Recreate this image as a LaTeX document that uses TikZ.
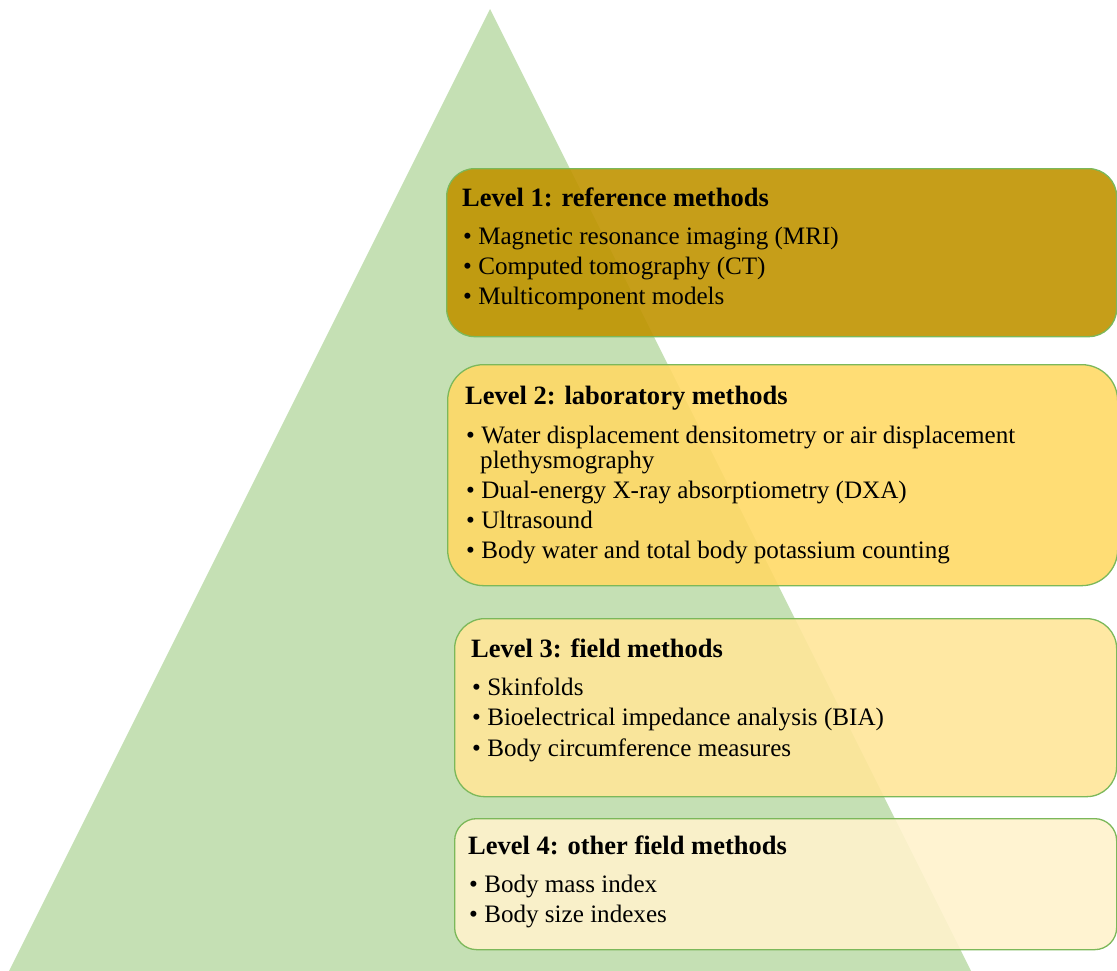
\documentclass[tikz,border=0pt]{standalone}
\usepackage{fontspec}
\setmainfont{Liberation Serif}
\definecolor{trigreen}{HTML}{C5E0B4}
\definecolor{boxline}{HTML}{7CB85A}
\definecolor{lvA}{HTML}{C09400}
\definecolor{lvB}{HTML}{FFD966}
\definecolor{lvC}{HTML}{FFE699}
\definecolor{lvD}{HTML}{FFF2CC}
\begin{document}
\begin{tikzpicture}[x=1bp,y=-1bp,
  lvlbox/.style={draw=boxline, line width=1.3bp, fill opacity=0.9, inner sep=0pt, anchor=north west, minimum width=670bp},
  ttl/.style={anchor=base west, inner sep=0pt, font=\fontsize{26.6}{30}\selectfont\bfseries},
  itm/.style={anchor=base west, inner sep=0pt, font=\fontsize{25.2}{30}\selectfont}]
\useasboundingbox (0,0) rectangle (1117,971);
\fill[trigreen] (490,9) -- (971,971) -- (9,971) -- cycle;
% boxes
\node (b1) [lvlbox, fill=lvA, rounded corners=28bp, minimum height=168bp] at (446,168) {};
\node (b2) [lvlbox, fill=lvB, rounded corners=36bp, minimum height=221bp] at (447,364) {};
\node (b3) [lvlbox, fill=lvC, rounded corners=30bp, minimum height=178bp, minimum width=662bp] at (454,618) {};
\node (b4) [lvlbox, fill=lvD, rounded corners=22bp, minimum height=131bp, minimum width=662bp] at (454,818) {};
% level 1
\node (t1) [ttl] at (462,206) {Level 1: reference methods};
\node (i11) [itm] at (463,244) {• Magnetic resonance imaging (MRI)};
\node (i12) [itm] at (463,274) {• Computed tomography (CT)};
\node (i13) [itm] at (463,304.5) {• Multicomponent models};
% level 2
\node (t2) [ttl] at (465,404) {Level 2: laboratory methods};
\node (i21) [itm] at (466,443) {• Water displacement densitometry or air displacement};
\node (i21b) [itm] at (480,468) {plethysmography};
\node (i22) [itm] at (466,498) {• Dual-energy X-ray absorptiometry (DXA)};
\node (i23) [itm] at (466,528.5) {• Ultrasound};
\node (i24) [itm] at (466,558.5) {• Body water and total body potassium counting};
% level 3
\node (t3) [ttl] at (471,657) {Level 3: field methods};
\node (i31) [itm] at (472,695) {• Skinfolds};
\node (i32) [itm] at (472,725.5) {• Bioelectrical impedance analysis (BIA)};
\node (i33) [itm] at (472,756) {• Body circumference measures};
% level 4
\node (t4) [ttl] at (468,854) {Level 4: other field methods};
\node (i41) [itm] at (469,892.5) {• Body mass index};
\node (i42) [itm] at (469,922) {• Body size indexes};
\end{tikzpicture}
\end{document}
